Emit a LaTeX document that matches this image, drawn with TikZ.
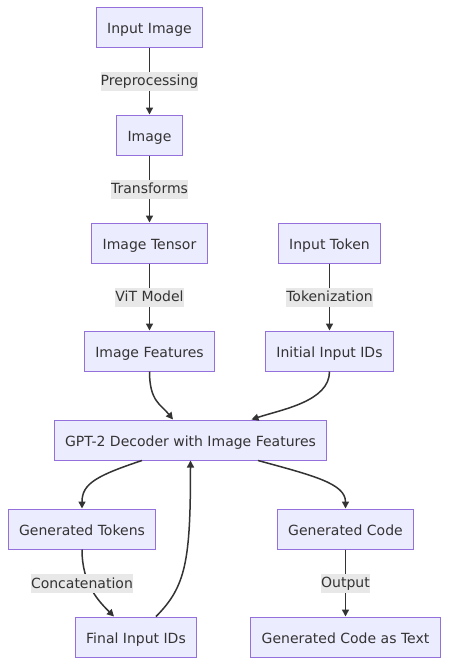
\documentclass[tikz,border=0pt]{standalone}
\usepackage{fontspec}
\setmainfont{DejaVu Sans}
\usepackage{tikz}
\usetikzlibrary{arrows.meta,positioning,calc}
\definecolor{boxfill}{HTML}{ECECFF}
\definecolor{boxline}{HTML}{9370DB}
\definecolor{ink}{HTML}{333333}
\definecolor{lblbg}{HTML}{E8E8E8}
\tikzset{
    box/.style={draw=boxline, fill=boxfill, line width=1pt, minimum height=40pt, inner xsep=11pt, text height=12pt, text depth=0pt, text=ink, font=\fontsize{14pt}{16pt}\selectfont},
    flow/.style={-{Triangle[length=7pt, width=7pt]}, line width=1.5pt, ink},
    lbl/.style={fill=lblbg, inner sep=0pt, minimum height=19pt, text height=11pt, text depth=2pt, text=ink, font=\fontsize{14pt}{16pt}\selectfont}
}

\begin{document}
\begin{tikzpicture}[x=1pt, y=1pt, node distance=67pt]
\useasboundingbox (0,0) rectangle (449,-665);
\node[box] (img) at (149.5,-27) {Input Image};
\node[box, below=of img] (pic) {Image};
\node[box, below=of pic] (tensor) {Image Tensor};
\node[box, below=of tensor] (feat) {Image Features};
\node[box] (token) at (329.5,-243) {Input Token};
\node[box, below=of token] (ids) {Initial Input IDs};
\node[box] (gpt) at (190.5,-440) {GPT-2 Decoder with Image Features};
\node[box] (gtok) at (82,-529) {Generated Tokens};
\node[box] (gcode) at (345.5,-529) {Generated Code};
\node[box] (final) at (136,-637) {Final Input IDs};
\node[box, below=of gcode] (text) {Generated Code as Text};

\draw[flow] (img) -- (pic) node[lbl, midway] {Preprocessing};
\draw[flow] (pic) -- (tensor) node[lbl, midway] {Transforms};
\draw[flow] (tensor) -- (feat) node[lbl, midway] {ViT Model};
\draw[flow] (token) -- (ids) node[lbl, midway] {Tokenization};
\draw[flow] (feat.south) .. controls +(0,-30) and +(-12,15) .. ([xshift=-17.5pt]gpt.north);
\draw[flow] (ids.south) .. controls +(0,-30) and +(30,10) .. ([xshift=61pt]gpt.north);
\draw[flow] ([xshift=-48.5pt]gpt.south) .. controls +(-45,-15) and +(0,25) .. (gtok.north);
\draw[flow] ([xshift=67.5pt]gpt.south) .. controls +(55,-15) and +(0,25) .. (gcode.north);
\draw[flow] (gtok.south) .. controls +(0,-35) and +(-15,15) .. ([xshift=-22pt]final.north) node[lbl, pos=0.4, xshift=-7pt] {Concatenation};
\draw[flow] ([xshift=20pt]final.north) .. controls +(30,30) and +(0,-100) .. (gpt.south);
\draw[flow] (gcode) -- (text) node[lbl, midway] {Output};
\end{tikzpicture}
\end{document}
